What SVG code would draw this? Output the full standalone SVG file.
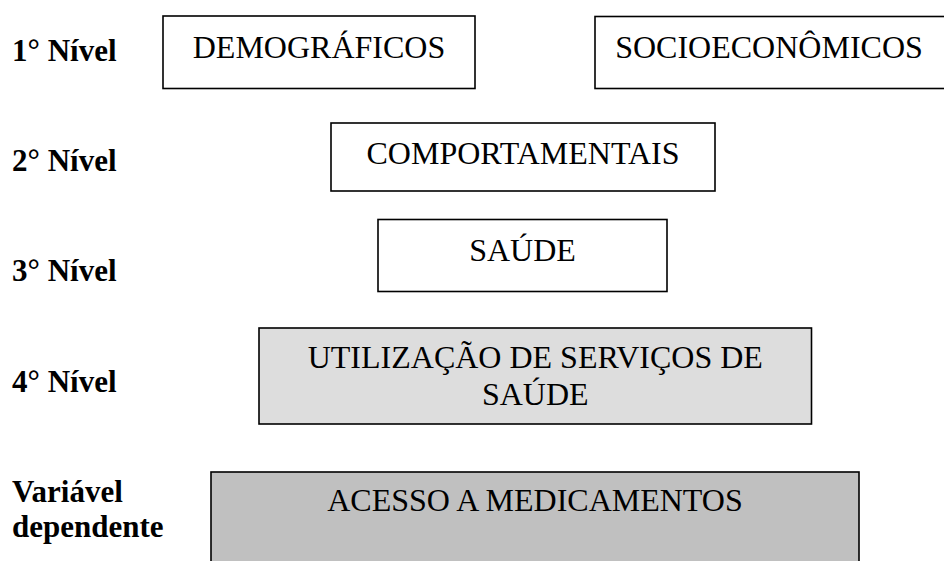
<svg xmlns="http://www.w3.org/2000/svg" width="944" height="561" viewBox="0 0 944 561">
<style>
.box{stroke:#000;stroke-width:1.6}
.w{fill:#fff}
.g1{fill:#dddddd}
.g2{fill:#c0c0c0}
.t{font-family:"Liberation Serif","Times New Roman",serif;font-size:32px;fill:#000;text-anchor:middle}
.lbl{font-family:"Liberation Serif","Times New Roman",serif;font-size:31px;font-weight:bold;fill:#000}
</style>
<rect width="944" height="561" fill="#fff"/>
<g id="labels">
<text class="lbl" x="12" y="61">1° Nível</text>
<text class="lbl" x="12" y="171">2° Nível</text>
<text class="lbl" x="12" y="281">3° Nível</text>
<text class="lbl" x="12" y="392">4° Nível</text>
<text class="lbl" x="12" y="502">Variável</text>
<text class="lbl" x="12" y="537">dependente</text>
</g>
<g id="connectors"></g>
<g id="demograficos">
<rect class="box w" x="163" y="16" width="312" height="72.5"/>
<text class="t" x="319" y="57.5">DEMOGRÁFICOS</text>
</g>
<g id="socioeconomicos">
<rect class="box w" x="595" y="16.5" width="355" height="72"/>
<text class="t" x="769" y="57.5">SOCIOECONÔMICOS</text>
</g>
<g id="comportamentais">
<rect class="box w" x="331" y="123" width="384" height="68"/>
<text class="t" x="523" y="164">COMPORTAMENTAIS</text>
</g>
<g id="saude">
<rect class="box w" x="378" y="219.5" width="289" height="72"/>
<text class="t" x="522.5" y="261">SAÚDE</text>
</g>
<g id="utilizacao">
<rect class="box g1" x="259" y="328" width="552.5" height="96"/>
<text class="t" x="535.3" y="368">UTILIZAÇÃO DE SERVIÇOS DE</text>
<text class="t" x="535.3" y="405">SAÚDE</text>
</g>
<g id="acesso">
<rect class="box g2" x="211" y="472" width="648" height="100"/>
<text class="t" x="535" y="511">ACESSO A MEDICAMENTOS</text>
</g>
</svg>
